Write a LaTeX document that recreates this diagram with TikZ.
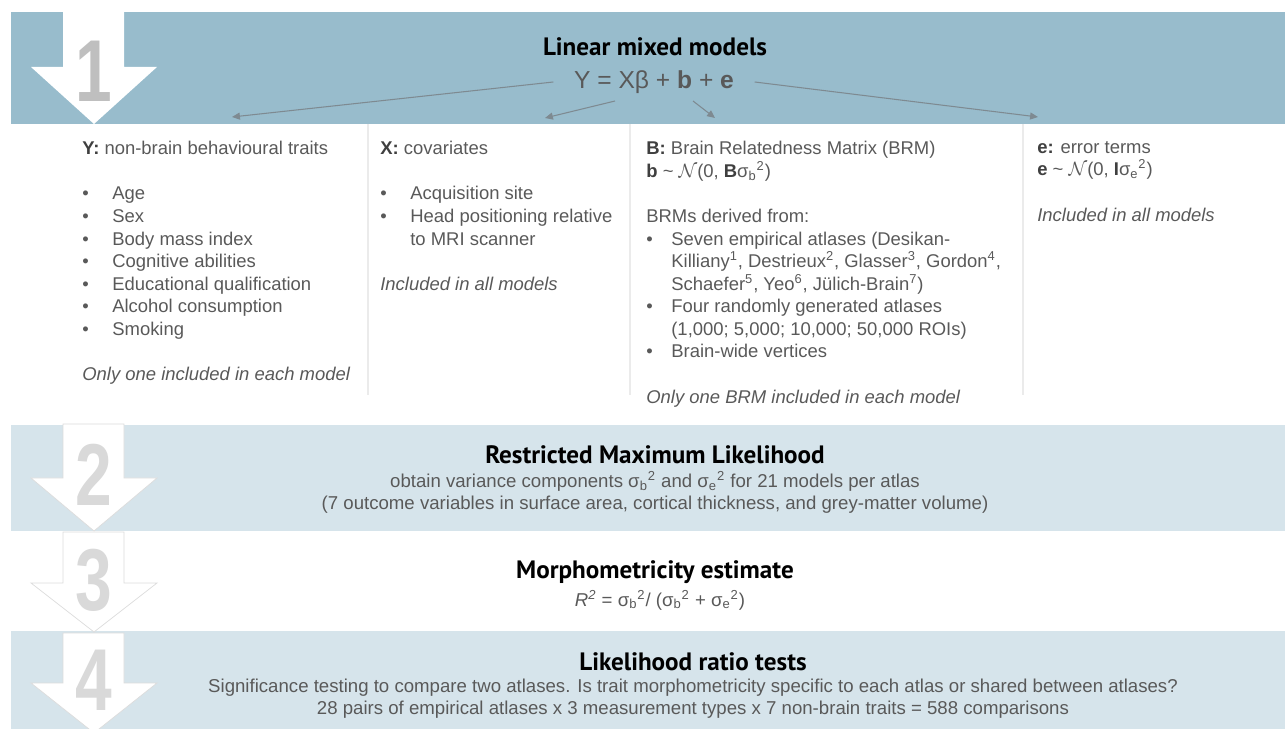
\documentclass[tikz,border=0pt]{standalone}
\usepackage{fontspec}
\setmainfont{Liberation Sans}
\newfontfamily\dinfont{PT Sans}
\usetikzlibrary{arrows.meta}
\definecolor{bandblue}{HTML}{98BCCC}
\definecolor{bandpale}{HTML}{D6E4EB}
\definecolor{txtgray}{HTML}{595959}
\definecolor{keygray}{HTML}{3F3F3F}
\definecolor{numgray}{HTML}{BFBFBF}
\definecolor{numpale}{HTML}{D9D9D9}
\definecolor{rulegray}{HTML}{EBEBEB}
\definecolor{linkgray}{HTML}{7E8A91}
\definecolor{arrowedge}{HTML}{DCDCDC}
\newcommand{\bul}[1]{\makebox[#1][l]{\textbullet}}
\newcommand{\sgb}{σ\textsubscript{b}\textsuperscript{2}}
\newcommand{\sge}{σ\textsubscript{e}\textsuperscript{2}}

\begin{document}
\begin{tikzpicture}[x=0.02cm, y=-0.02cm,
    head/.style = {font=\dinfont\bfseries\fontsize{14.3}{16}\selectfont, text=black, inner sep=0},
    desc/.style = {font=\fontsize{10.6}{12.5}\selectfont, text=txtgray, align=center, inner sep=0},
    col/.style = {font=\fontsize{10.5}{12.85}\selectfont, text=txtgray, align=left, inner sep=0, anchor=north west},
    num/.style = {font=\bfseries\fontsize{50}{50}\selectfont, inner sep=0, transform shape, xscale=0.75},
    link/.style = {draw=linkgray, line width=0.6pt, -{Triangle[length=4.5pt,width=4pt]}},
    bigarrow/.style = {fill=white, draw=arrowedge},
    sep/.style = {draw=rulegray, line width=0.8pt}]
\useasboundingbox (0,0) rectangle (1285,729);

\fill[bandblue] (11,12) rectangle (1285,124);
\fill[bandpale] (11,425) rectangle (1285,531);
\fill[bandpale] (11,631) rectangle (1285,729);

\fill[white] (63,12) -- (124,12) -- (124,67) -- (157,67) -- (94,124) -- (31,67) -- (63,67) -- cycle;
\draw[bigarrow] (63,424) -- (124,424) -- (124,478) -- (157,478) -- (94,531) -- (31,478) -- (63,478) -- cycle;
\draw[bigarrow] (63,532) -- (124,532) -- (124,583) -- (157,583) -- (94,632) -- (31,583) -- (63,583) -- cycle;
\begin{scope}
\clip (0,0) rectangle (1285,729);
\draw[bigarrow] (63,633) -- (124,633) -- (124,683) -- (157,683) -- (94,733) -- (31,683) -- (63,683) -- cycle;
\end{scope}

\node[num, text=numgray] (n_num1) at (94,71) {1};
\node[num, text=numpale] (n_num2) at (94,475) {2};
\node[num, text=numpale] (n_num3) at (94,580) {3};
\node[num, text=numpale] (n_num4) at (94,680) {4};

\draw[sep] (368,124) -- (368,395);
\draw[sep] (630,124) -- (630,395);
\draw[sep] (1023,124) -- (1023,395);

\node[head] (n_t1) at (655,47) {Linear mixed models};
\node[font=\fontsize{14}{16}\selectfont, text=txtgray, inner xsep=0.41cm, inner ysep=0] (n_eq) at (654,82) {Y = Xβ + \textbf{b} + \textbf{e}};

\coordinate (n_toY) at (232,117);
\coordinate (n_toX) at (545,118);
\coordinate (n_toB) at (715,118);
\coordinate (n_toE) at (1038,117);
\draw[link] (n_eq.west) -- (n_toY);
\draw[link] ([shift={(-39,19)}]n_eq.center) -- (n_toX);
\draw[link] ([shift={(39,19)}]n_eq.center) -- (n_toB);
\draw[link] (n_eq.east) -- (n_toE);

\node[col] (n_colY) at (82,141) {\textcolor{keygray}{\textbf{Y:}} non-brain behavioural traits\\[12.85pt]
\bul{0.6cm}Age\\
\bul{0.6cm}Sex\\
\bul{0.6cm}Body mass index\\
\bul{0.6cm}Cognitive abilities\\
\bul{0.6cm}Educational qualification\\
\bul{0.6cm}Alcohol consumption\\
\bul{0.6cm}Smoking\\[12.85pt]
\textit{Only one included in each model}};

\node[col] (n_colX) at (380,141) {\textcolor{keygray}{\textbf{X:}} covariates\\[12.85pt]
\bul{0.6cm}Acquisition site\\
\bul{0.6cm}Head positioning relative\\
\hspace*{0.6cm}to MRI scanner\\[12.85pt]
\textit{Included in all models}};

\node[col] (n_colB) at (646,141) {\textcolor{keygray}{\textbf{B:}} Brain Relatedness Matrix (BRM)\\
\textcolor{keygray}{\textbf{b}} \textasciitilde{} $\mathcal{N}$(0, \textcolor{keygray}{\textbf{B}}\sgb)\\[12.85pt]
BRMs derived from:\\
\bul{0.5cm}Seven empirical atlases (Desikan-\\
\hspace*{0.5cm}Killiany\textsuperscript{1}, Destrieux\textsuperscript{2}, Glasser\textsuperscript{3}, Gordon\textsuperscript{4},\\
\hspace*{0.5cm}Schaefer\textsuperscript{5}, Yeo\textsuperscript{6}, Jülich-Brain\textsuperscript{7})\\
\bul{0.5cm}Four randomly generated atlases\\
\hspace*{0.5cm}(1,000; 5,000; 10,000; 50,000 ROIs)\\
\bul{0.5cm}Brain-wide vertices\\[12.85pt]
\textit{Only one BRM included in each model}};

\node[col] (n_colE) at (1037,141) {\textcolor{keygray}{\textbf{e:}} error terms\\
\textcolor{keygray}{\textbf{e}} \textasciitilde{} $\mathcal{N}$(0, \textcolor{keygray}{\textbf{I}}\sge)\\[12.85pt]
\textit{Included in all models}};

\node[head] (n_t2) at (655,455) {Restricted Maximum Likelihood};
\node[desc] (n_d2) at (655,492) {obtain variance components \sgb{} and \sge{} for 21 models per atlas\\
(7 outcome variables in surface area, cortical thickness, and grey-matter volume)};

\node[head] (n_t3) at (655,572) {Morphometricity estimate};
\node[desc] (n_d3) at (660,600) {\textit{R\textsuperscript{2}} = \sgb/ (\sgb{} + \sge)};

\node[head] (n_t4) at (693,662) {Likelihood ratio tests};
\node[desc] (n_d4) at (693,699) {Significance testing to compare two atlases. Is trait morphometricity specific to each atlas or shared between atlases?\\
28 pairs of empirical atlases x 3 measurement types x 7 non-brain traits = 588 comparisons};
\end{tikzpicture}
\end{document}
